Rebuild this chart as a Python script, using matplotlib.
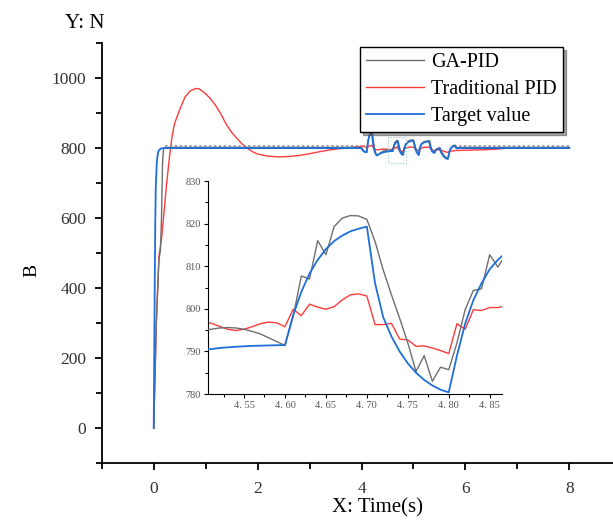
import numpy as np
import matplotlib
matplotlib.use('Agg')
import matplotlib.pyplot as plt
from matplotlib.patches import Rectangle
from matplotlib.ticker import MultipleLocator, FuncFormatter

plt.rcParams['font.family'] = ['Liberation Serif', 'DejaVu Serif']

# target value (blue)
tgt_t = [0.00, 0.01, 0.02, 0.03, 0.04, 0.06, 0.08, 0.10, 0.14, 0.20, 4.00, 4.03, 4.06, 4.09,
         4.10, 4.12, 4.14, 4.16, 4.18, 4.20, 4.22, 4.24, 4.26, 4.28, 4.30, 4.35, 4.40, 4.45,
         4.50, 4.52, 4.54, 4.56, 4.58, 4.60, 4.61, 4.62, 4.63, 4.64, 4.65, 4.66, 4.67, 4.68,
         4.69, 4.70, 4.71, 4.72, 4.73, 4.74, 4.75, 4.76, 4.77, 4.78, 4.79, 4.80, 4.81, 4.82,
         4.83, 4.84, 4.85, 4.86, 4.88, 4.90, 4.95, 5.00, 5.03, 5.06, 5.10, 5.12, 5.15, 5.20,
         5.25, 5.30, 5.33, 5.36, 5.40, 5.43, 5.47, 5.50, 5.53, 5.58, 5.62, 5.66, 5.69, 5.72,
         5.76, 5.80, 5.83, 5.87, 8.00]
tgt_v = [0, 200, 420, 590, 690, 760, 785, 794, 799, 800, 800, 792, 789, 788,
         788, 815, 830, 838, 840, 841, 815, 797, 787, 781, 779, 784, 787, 789,
         790.3, 790.8, 791.1, 791.3, 791.4, 791.5, 798.5, 804, 808.3, 811.5, 814, 815.9, 817.2, 818.2,
         818.8, 819.3, 806, 798, 793.5, 790, 787.2, 785, 783.3, 782, 781, 780.4, 789, 796.5,
         802, 806, 809.3, 811.5, 815, 817.5, 820, 821, 800, 788, 780, 800, 811, 816,
         818, 819, 800, 790, 786, 795, 798, 799, 788, 776, 771, 769, 790, 800,
         805, 806, 799, 800, 800]

# GA-PID (gray)
ga_t = [0.00, 0.05, 0.10, 0.13, 0.15, 0.17, 0.19, 0.22, 4.00, 4.03, 4.06, 4.09, 4.11, 4.13,
        4.15, 4.17, 4.19, 4.21, 4.23, 4.25, 4.27, 4.29, 4.31, 4.35, 4.40, 4.45, 4.50,
        4.51, 4.52, 4.53, 4.54, 4.55, 4.56, 4.57, 4.58, 4.59, 4.60, 4.61, 4.62, 4.63, 4.64,
        4.65, 4.66, 4.67, 4.68, 4.69, 4.70, 4.71, 4.72, 4.73, 4.74, 4.75, 4.76, 4.77, 4.78,
        4.79, 4.80, 4.81, 4.82, 4.83, 4.84, 4.85, 4.86, 4.88, 4.90, 4.95, 5.00, 5.04, 5.07,
        5.11, 5.13, 5.16, 5.21, 5.26, 5.31, 5.34, 5.37, 5.41, 5.44, 5.48, 5.51, 5.54, 5.59,
        5.63, 5.67, 5.70, 5.73, 5.77, 5.81, 5.84, 5.88, 8.00]
ga_v = [0, 300, 480, 510, 600, 760, 798, 802, 802, 795, 790, 789, 800, 822,
        836, 842, 843, 840, 818, 799, 788, 782, 780, 785, 790, 794, 795,
        795.2, 795.5, 795.6, 795.5, 795.2, 794.7, 794.1, 793.2, 792.3, 791.4, 798.2, 807.7, 807, 816,
        812.7, 819.3, 821.3, 821.9, 821.8, 821, 815.8, 809.1, 803.3, 797.8, 792, 785.3, 789, 783,
        786.3, 785.7, 792, 799.8, 804.3, 804.7, 812.7, 809.8, 816, 820, 823, 823, 802, 789,
        782, 801, 813, 819, 820, 821, 802, 791, 788, 797, 800, 801, 790, 778,
        773, 771, 792, 802, 808, 808, 800, 802, 802]

# small steady-state ripple of GA-PID: segments and its crest value
ripple_t = [[0.22, 4.00], [5.88, 8.00]]
ripple_v = 805

# traditional PID (red)
pid_t = [0.00, 0.05, 0.10, 0.15, 0.20, 0.25, 0.30, 0.35, 0.40, 0.50, 0.60, 0.70, 0.80, 0.85,
         0.90, 1.00, 1.10, 1.20, 1.30, 1.40, 1.50, 1.60, 1.70, 1.80, 1.90, 2.00, 2.20, 2.40,
         2.60, 2.80, 3.00, 3.20, 3.40, 3.60, 3.80, 4.00, 4.05, 4.10, 4.15, 4.20, 4.25, 4.30,
         4.40, 4.50, 4.51, 4.52, 4.53, 4.54, 4.55, 4.56, 4.57, 4.58, 4.59, 4.60, 4.61, 4.62,
         4.63, 4.64, 4.65, 4.66, 4.67, 4.68, 4.69, 4.70, 4.71, 4.72, 4.73, 4.74, 4.75, 4.76,
         4.77, 4.78, 4.79, 4.80, 4.81, 4.82, 4.83, 4.84, 4.85, 4.86, 4.90, 4.95, 5.00, 5.05,
         5.10, 5.15, 5.20, 5.30, 5.35, 5.40, 5.50, 5.60, 5.65, 5.70, 5.80, 6.00, 6.30, 6.60,
         6.80, 7.00, 8.00]
pid_v = [0, 300, 490, 540, 620, 700, 770, 830, 870, 910, 945, 963, 970, 970,
         967, 955, 940, 920, 895, 867, 845, 828, 812, 800, 790, 783, 777, 775,
         776, 779, 784, 790, 795, 799, 802, 805, 806, 800, 806, 808, 797, 795,
         797, 797, 796.6, 795.9, 795.2, 794.9, 795.2, 795.8, 796.5, 796.9, 796.7, 795.8, 799.9, 798.4,
         801.1, 800.4, 799.9, 800.5, 802.1, 803.3, 803.5, 803, 796.3, 796.3, 796.6, 792.9, 792.7, 791.2,
         791.3, 790.8, 790.2, 789.5, 796.5, 795.2, 799.8, 799.6, 800.3, 800.3, 802, 803, 803, 796,
         793, 800, 802, 803, 795, 793, 796, 790, 788, 791, 793, 794, 795, 797,
         800, 801, 801]

labels = ['GA-PID', 'Traditional PID', 'Target value']
c_ga, c_pid, c_tgt = '#6e6e6e', '#ff3b3b', '#1f6fd8'

fig = plt.figure(figsize=(6.13, 5.22), dpi=100)
ax = fig.add_axes([0.166, 0.1125, 0.834, 0.805])

l1, = ax.plot(ga_t, ga_v, color=c_ga, lw=1.0, zorder=3)
for seg in ripple_t:
    ax.plot(seg, [ripple_v, ripple_v], color='#8a8a8a', lw=1.1, ls=(0, (1.6, 1.6)), zorder=3)
l2, = ax.plot(pid_t, pid_v, color=c_pid, lw=1.0, zorder=2)
l3, = ax.plot(tgt_t, tgt_v, color=c_tgt, lw=1.3, zorder=4)

ax.add_patch(Rectangle((4.506, 757), 0.359, 75, fill=False, ls=':', lw=0.8,
                       ec='#8fc9c9', zorder=5))

ax.set_xlim(-1, 8.84)
ax.set_ylim(-100, 1100)
ax.xaxis.set_major_locator(MultipleLocator(2))
ax.xaxis.set_minor_locator(MultipleLocator(1))
ax.yaxis.set_major_locator(MultipleLocator(200))
ax.yaxis.set_minor_locator(MultipleLocator(100))
for s in ['top', 'right']:
    ax.spines[s].set_visible(False)
for s in ['left', 'bottom']:
    ax.spines[s].set_linewidth(1.3)
ax.tick_params(which='major', direction='out', length=5, width=1.3, labelsize=12.5,
               labelcolor='#333333')
ax.tick_params(axis='x', which='major', pad=8)
ax.tick_params(axis='y', which='major', pad=6)
ax.tick_params(which='minor', direction='out', length=4, width=1.3)
ax.set_yticks([0, 200, 400, 600, 800, 1000])

ax.set_xlabel('X: Time(s)', fontsize=15)
ax.xaxis.set_label_coords(0.540, -0.083)
ax.set_ylabel('B', fontsize=14)
ax.yaxis.set_label_coords(-0.120, 0.46)
fig.text(0.139, 0.955, 'Y: N', fontsize=15, ha='center', va='center')

leg = ax.legend([l1, l2, l3], labels, loc='upper right', bbox_to_anchor=(0.902, 0.99),
                fontsize=14.5, frameon=True, fancybox=False, shadow=True, handlelength=2.9,
                handletextpad=0.35, labelspacing=0.38, borderpad=0.3, borderaxespad=0)
leg.get_frame().set_edgecolor('black')
leg.get_frame().set_linewidth(1.0)

# inset
ins = fig.add_axes([0.3393, 0.2452, 0.4796, 0.408])
ins.plot(ga_t, ga_v, color=c_ga, lw=1.0, zorder=3)
ins.plot(pid_t, pid_v, color=c_pid, lw=1.0, zorder=2)
ins.plot(tgt_t, tgt_v, color=c_tgt, lw=1.3, zorder=4)
ins.set_xlim(4.506, 4.865)
ins.set_ylim(780, 830)
ins.patch.set_alpha(0)
for s in ['top', 'right']:
    ins.spines[s].set_visible(False)
ins.xaxis.set_major_locator(MultipleLocator(0.05))
ins.xaxis.set_minor_locator(MultipleLocator(0.025))
ins.yaxis.set_major_locator(MultipleLocator(10))
ins.yaxis.set_minor_locator(MultipleLocator(5))
ins.xaxis.set_major_formatter(FuncFormatter(lambda v, p: ('%.2f' % v).replace('.', '. ')))
ins.tick_params(which='major', direction='out', length=3, width=0.8, labelsize=7.5,
               labelcolor='#555555', pad=2)
ins.tick_params(which='minor', direction='out', length=2, width=0.8)

fig.savefig('out.png', dpi=100)
